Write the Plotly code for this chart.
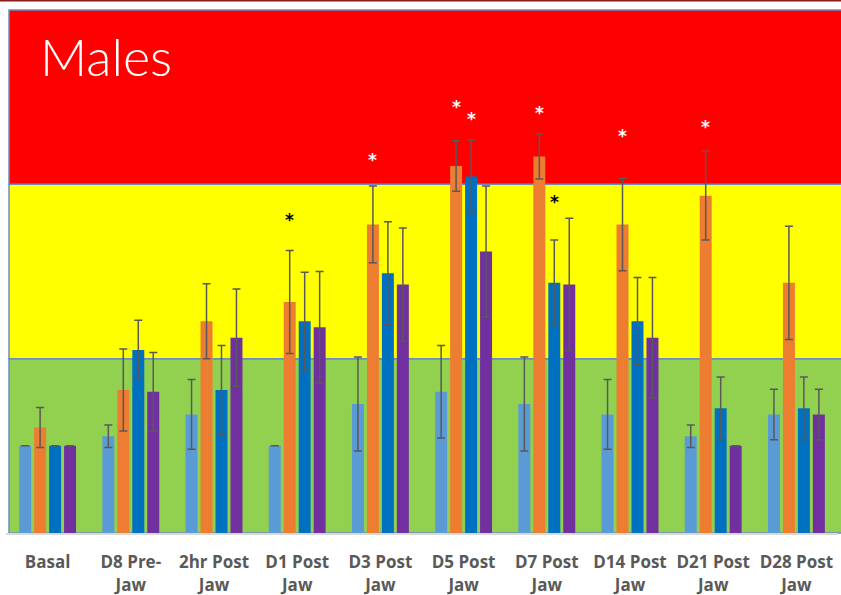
import plotly.graph_objects as go

# Time points along the x axis
categories = ["Basal", "D8 Pre-<br>Jaw", "2hr Post<br>Jaw", "D1 Post<br>Jaw", "D3 Post<br>Jaw",
              "D5 Post<br>Jaw", "D7 Post<br>Jaw", "D14 Post<br>Jaw", "D21 Post<br>Jaw", "D28 Post<br>Jaw"]

# Mean values for the four series
series_a = [1.00, 1.11, 1.36, 1.00, 1.48, 1.62, 1.48, 1.36, 1.11, 1.36]
series_b = [1.21, 1.64, 2.43, 2.65, 3.54, 4.21, 4.32, 3.54, 3.87, 2.87]
series_c = [1.00, 2.10, 1.64, 2.43, 2.98, 4.09, 2.87, 2.43, 1.43, 1.43]
series_d = [1.00, 1.62, 2.24, 2.36, 2.85, 3.23, 2.85, 2.24, 1.00, 1.36]

# Error bar half-widths for each series
err_a = [0.00, 0.13, 0.40, 0.00, 0.54, 0.53, 0.54, 0.40, 0.13, 0.29]
err_b = [0.23, 0.47, 0.43, 0.59, 0.44, 0.29, 0.26, 0.53, 0.51, 0.65]
err_c = [0.00, 0.34, 0.51, 0.56, 0.59, 0.42, 0.49, 0.50, 0.36, 0.36]
err_d = [0.00, 0.45, 0.56, 0.64, 0.65, 0.75, 0.76, 0.69, 0.00, 0.29]

series_colors = ["#5B9BD5", "#ED7D31", "#0070C0", "#7030A0"]

# Significance markers: category index, series index, height, colour
star_cat = [3, 4, 5, 5, 6, 6, 7, 8]
star_series = [1, 1, 1, 2, 1, 2, 1, 1]
star_y = [3.63, 4.31, 4.92, 4.78, 4.85, 3.83, 4.59, 4.69]
star_color = ["black", "white", "white", "white", "white", "black", "white", "white"]

# Background zones (lower, upper, colour)
zones = [(0, 2, "#92D050"), (2, 4, "#FFFF00"), (4, 6, "#FF0000")]

W, H = 841, 595
ML, MR, MT, MB = 6, 3, 10, 62
plot_w = W - ML - MR
plot_h = H - MT - MB

fig = go.Figure()
values = [series_a, series_b, series_c, series_d]
errors = [err_a, err_b, err_c, err_d]
for i, (vals, errs) in enumerate(zip(values, errors)):
    fig.add_trace(go.Bar(
        x=categories, y=vals, name=f"Series {i + 1}",
        marker=dict(color=series_colors[i], line=dict(width=0)),
        error_y=dict(type="data", array=errs, visible=True,
                     color="#595959", thickness=1.5, width=4),
        showlegend=False,
    ))

y_max = 6.0
x0_band = 3 / plot_w
for lo, hi, col in zones:
    fig.add_shape(type="rect", xref="paper", yref="paper",
                  x0=x0_band, x1=1.02, y0=lo / y_max, y1=hi / y_max,
                  fillcolor=col, line=dict(color="#6C8EBF", width=1.5),
                  layer="below")

# thin dark rule across the top of the page
top_y = 1 + 9.5 / plot_h
fig.add_shape(type="line", xref="paper", yref="paper",
              x0=-0.02, x1=1.02, y0=top_y, y1=top_y,
              line=dict(color="#8B1A1A", width=2))

# pixel offsets of each bar within its group
cat_w = plot_w / len(categories)
slot = cat_w * (1 - 0.28) / 4
offsets = [(-1.5 + k) * slot for k in range(4)]

for c, s, yv, col in zip(star_cat, star_series, star_y, star_color):
    fig.add_annotation(x=categories[c], y=yv, xref="x", yref="y",
                       text="*", showarrow=False, xshift=offsets[s], yshift=-3,
                       font=dict(size=17, color=col, family="DejaVu Sans", weight="bold"))

fig.add_annotation(text="Males", xref="paper", yref="paper",
                   x=(38 - ML) / plot_w, y=(H - MB - 56) / plot_h,
                   xanchor="left", yanchor="middle", showarrow=False,
                   font=dict(size=52, color="white", family="Lato", weight=300))

fig.update_layout(
    width=W, height=H,
    margin=dict(l=ML, r=MR, t=MT, b=MB, autoexpand=False),
    barmode="group", bargap=0.28, bargroupgap=0.2,
    paper_bgcolor="white", plot_bgcolor="rgba(0,0,0,0)",
    xaxis=dict(showline=True, linecolor="#D9D9D9", linewidth=2, automargin=False,
               ticks="outside", ticklen=13, tickcolor="rgba(0,0,0,0)",
               tickfont=dict(family="Open Sans", size=17, color="#595959", weight="bold"),
               showgrid=False),
    yaxis=dict(range=[0, y_max], visible=False, showgrid=False, zeroline=False),
)

fig.write_html("out.html")
